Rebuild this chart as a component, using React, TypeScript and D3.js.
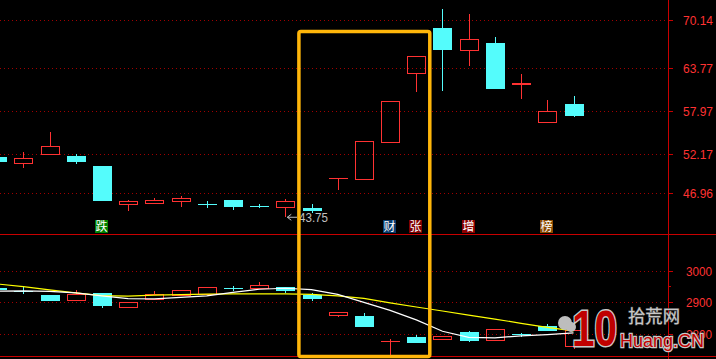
import React from "react";
import * as d3 from "d3";

// ---- data ----
const days = d3.range(23);
const upOpen = [51.82, 51.06, 52.27, 52.0, 50.62, 45.49, 45.7, 45.97, 45.55, 46.06, 45.22, 45.08, 44.99, 48.97, 48.92, 53.87, 63.04, 69.11, 66.2, 67.1, 61.65, 56.55, 58.93];
const upHigh = [51.9, 52.49, 55.17, 52.23, 50.62, 46.06, 46.33, 46.6, 45.93, 46.06, 45.53, 46.2, 45.53, 48.97, 53.93, 59.29, 65.32, 71.66, 70.99, 67.88, 62.95, 59.46, 60.0];
const upLow = [51.1, 50.39, 52.27, 50.93, 45.97, 44.63, 45.7, 45.16, 45.03, 44.76, 45.03, 43.75, 44.28, 47.4, 48.92, 53.87, 60.57, 60.71, 64.06, 60.94, 59.64, 56.55, 57.22];
const upClose = [51.19, 51.69, 53.3, 51.19, 45.97, 45.93, 46.06, 46.33, 45.53, 45.16, 45.21, 45.93, 44.59, 48.97, 53.93, 59.29, 65.32, 66.16, 67.6, 60.94, 61.7, 57.95, 57.36];

const loOpen = [2943.75, 2937, 2923.4, 2908.8, 2929.7, 2886.9, 2910, 2924.4, 2927.5, 2945, 2946.3, 2948.4, 2923.4, 2861.9, 2857.8, 2778.8, 2792.2, 2785, 2807.8, 2781.9, 2801, 2825.6, 2764];
const loHigh = [2945, 2948.4, 2923.4, 2939.1, 2929.7, 2901.6, 2935.9, 2939.1, 2948.4, 2951.6, 2964.1, 2948.4, 2930, 2870.3, 2866.3, 2785.9, 2798.4, 2794.4, 2811.9, 2816.3, 2805.6, 2832.8, 2812.5];
const loLow = [2937, 2926.6, 2905.6, 2908.8, 2883.8, 2886.9, 2910, 2924.4, 2927.5, 2936.9, 2946.3, 2930.6, 2905.6, 2855.6, 2824.4, 2735.9, 2771.3, 2785, 2774.4, 2781.9, 2793, 2811.9, 2755];
const loClose = [2937.5, 2934, 2905.6, 2926.6, 2890, 2901.6, 2926.6, 2939.1, 2948.4, 2944.4, 2954.7, 2936.9, 2911.9, 2870.3, 2824.4, 2779.5, 2771.3, 2794.4, 2777.5, 2816.3, 2800.6, 2811.9, 2812.5];

const maWhite = [2935, 2935.9, 2934.4, 2929.7, 2920.3, 2911.9, 2910.9, 2915.6, 2920.3, 2931.3, 2941.3, 2944.4, 2940, 2925, 2900.3, 2875, 2845.3, 2809.4, 2790.6, 2789.1, 2795.3, 2799.1, 2804.7];
const maYellow = [2957.8, 2949.4, 2939.1, 2929.7, 2921.3, 2919.4, 2922.5, 2924.4, 2925.9, 2926.6, 2926.6, 2926.6, 2925, 2920.3, 2912.5, 2898.4, 2885.6, 2873.1, 2860.3, 2847.8, 2834.4, 2821.9, 2810.9];

const upTicks = [70.14, 63.77, 57.97, 52.17, 46.96];
const loTicks = [3000, 2900, 2800];
const loMinorTicks = [2950, 2850];

const markDays = [4, 15, 16, 18, 21];
const markTexts = ["跌", "财", "张", "增", "榜"];
const markColors: Record<string, string> = { "跌": "#008000", "财": "#0a3c6e", "张": "#800000", "增": "#8b0000", "榜": "#8b4a00" };

const lowDay = 11;
const lowLabel = "43.75";
const boxFrom = 12;
const boxTo = 16;

// ---- layout ----
const W = 716, H = 359;
const AXIS_X = 668;
const RED = "#ff3232";
const CYAN = "#54fcfc";
const LINE = "#c80000";
const GRID = "#a00000";

const x = d3.scaleLinear().domain([0, 22]).range([-2.9, 573.5]);
const yUp = d3.scaleLinear().domain([46.96, 70.14]).range([193.3, 20.3]);
const yLo = d3.scaleLinear().domain([2800, 3000]).range([334.3, 270.5]);

function Candles({ o, h, l, c, y }: { o: number[]; h: number[]; l: number[]; c: number[]; y: d3.ScaleLinear<number, number> }) {
  return (
    <g shapeRendering="crispEdges">
      {days.map((i) => {
        const cx = Math.round(x(i));
        const up = c[i] >= o[i];
        const top = Math.round(y(Math.max(o[i], c[i])));
        const bot = Math.round(y(Math.min(o[i], c[i])));
        const hy = Math.round(y(h[i]));
        const ly = Math.round(y(l[i]));
        if (up) {
          const flat = bot - top < 2;
          return (
            <g key={i}>
              {hy < top && <line x1={cx + 0.5} x2={cx + 0.5} y1={hy} y2={top} stroke={RED} />}
              {ly > bot && <line x1={cx + 0.5} x2={cx + 0.5} y1={bot} y2={ly} stroke={RED} />}
              {flat ? (
                <rect x={cx - 9} y={top} width={19} height={Math.max(1, bot - top + 1)} fill={RED} />
              ) : (
                <rect x={cx - 8.5} y={top + 0.5} width={18} height={bot - top} fill="none" stroke={RED} />
              )}
            </g>
          );
        }
        return (
          <g key={i}>
            <line x1={cx + 0.5} x2={cx + 0.5} y1={hy} y2={ly} stroke={CYAN} />
            <rect x={cx - 9} y={top} width={19} height={Math.max(1, bot - top)} fill={CYAN} />
          </g>
        );
      })}
    </g>
  );
}

export default function App() {
  const lineW = d3.line<number>().x((_, i) => x(i)).y((d) => yLo(d));
  const lowY = yUp(upLow[lowDay]);
  const bx0 = x(boxFrom) - 12.6;
  const bx1 = x(boxTo) + 13.5;
  return (
    <svg width={W} height={H} style={{ position: "fixed", left: 0, top: 0, background: "#000" }} fontFamily="'Liberation Sans', Arial, sans-serif">
      <rect width={W} height={H} fill="#000" />
      {/* grid */}
      <g shapeRendering="crispEdges">
        {upTicks.map((t) => (
          <line key={t} x1={0} x2={AXIS_X} y1={Math.round(yUp(t)) + 0.5} y2={Math.round(yUp(t)) + 0.5} stroke={GRID} strokeDasharray="1,3" />
        ))}
        {loTicks.map((t) => (
          <line key={t} x1={0} x2={AXIS_X} y1={Math.round(yLo(t)) + 0.5} y2={Math.round(yLo(t)) + 0.5} stroke={GRID} strokeDasharray="1,3" />
        ))}
      </g>
      <Candles o={upOpen} h={upHigh} l={upLow} c={upClose} y={yUp} />
      <Candles o={loOpen} h={loHigh} l={loLow} c={loClose} y={yLo} />
      <path d={lineW(maYellow) || ""} fill="none" stroke="#ffff00" strokeWidth={1.2} />
      <path d={lineW(maWhite) || ""} fill="none" stroke="#ffffff" strokeWidth={1.2} />
      {/* low annotation */}
      <g>
        <line x1={x(lowDay) + 2} x2={297} y1={lowY} y2={lowY} stroke="#c0c0c0" />
        <path d={`M${x(lowDay) + 2},${lowY} l4,-3 M${x(lowDay) + 2},${lowY} l4,3`} stroke="#c0c0c0" fill="none" />
        <text x={299} y={lowY + 5} fill="#c0c0c0" fontSize={13} textLength={29} lengthAdjust="spacingAndGlyphs">{lowLabel}</text>
      </g>
      {/* event markers */}
      {markDays.map((d, k) => (
        <g key={k}>
          <rect x={Math.round(x(d)) - 7} y={220} width={13} height={13} fill={markColors[markTexts[k]]} />
          <text x={Math.round(x(d)) - 0.5} y={231} fill="#fff" fontSize={12} textAnchor="middle" fontFamily="'Noto Sans CJK SC', sans-serif">{markTexts[k]}</text>
        </g>
      ))}
      {/* frame lines */}
      <g shapeRendering="crispEdges">
        <line x1={0} x2={W} y1={234.5} y2={234.5} stroke={LINE} />
        <line x1={0} x2={W} y1={356.5} y2={356.5} stroke={LINE} />
        <line x1={AXIS_X + 0.5} x2={AXIS_X + 0.5} y1={0} y2={H} stroke={LINE} />
        {upTicks.map((t) => (
          <line key={t} x1={AXIS_X} x2={AXIS_X + 5} y1={Math.round(yUp(t)) + 0.5} y2={Math.round(yUp(t)) + 0.5} stroke={LINE} />
        ))}
        {loTicks.map((t) => (
          <line key={t} x1={AXIS_X} x2={AXIS_X + 5} y1={Math.round(yLo(t)) + 0.5} y2={Math.round(yLo(t)) + 0.5} stroke={LINE} />
        ))}
        {loMinorTicks.map((t) => (
          <line key={t} x1={AXIS_X} x2={AXIS_X + 3} y1={Math.round(yLo(t)) + 0.5} y2={Math.round(yLo(t)) + 0.5} stroke={LINE} />
        ))}
      </g>
      {upTicks.map((t) => (
        <text key={t} x={683} y={yUp(t) + 5} fill={RED} fontSize={13} textLength={30} lengthAdjust="spacingAndGlyphs">{t.toFixed(2)}</text>
      ))}
      {loTicks.map((t) => (
        <text key={t} x={686} y={yLo(t) + 5} fill={RED} fontSize={13} textLength={26} lengthAdjust="spacingAndGlyphs">{t}</text>
      ))}
      {/* selection box */}
      <rect x={bx0} y={31.5} width={bx1 - bx0} height={325} fill="none" stroke="#ffb60a" strokeWidth={3.5} rx={2} />
      {/* watermark */}
      <g>
        <circle cx={565} cy={323} r={7} fill="#bdbdbd" />
        <circle cx={571} cy={327} r={5} fill="#bdbdbd" />
        <text x={572} y={346} fontSize={50} fontWeight="bold" fill="#c00000" stroke="#c8c8c8" strokeWidth={3} paintOrder="stroke" textLength={45} lengthAdjust="spacingAndGlyphs">10</text>
        <text x={628} y={323} fontSize={18} fill="#c8c8c8" stroke="#555" strokeWidth={1} paintOrder="stroke" fontFamily="'Noto Sans CJK SC', sans-serif" textLength={52} lengthAdjust="spacingAndGlyphs">拾荒网</text>
        <text x={620} y={347} fontSize={19} fill="#c00000" stroke="#c8c8c8" strokeWidth={2.5} paintOrder="stroke" textLength={84} lengthAdjust="spacingAndGlyphs">Huang.CN</text>
      </g>
    </svg>
  );
}
